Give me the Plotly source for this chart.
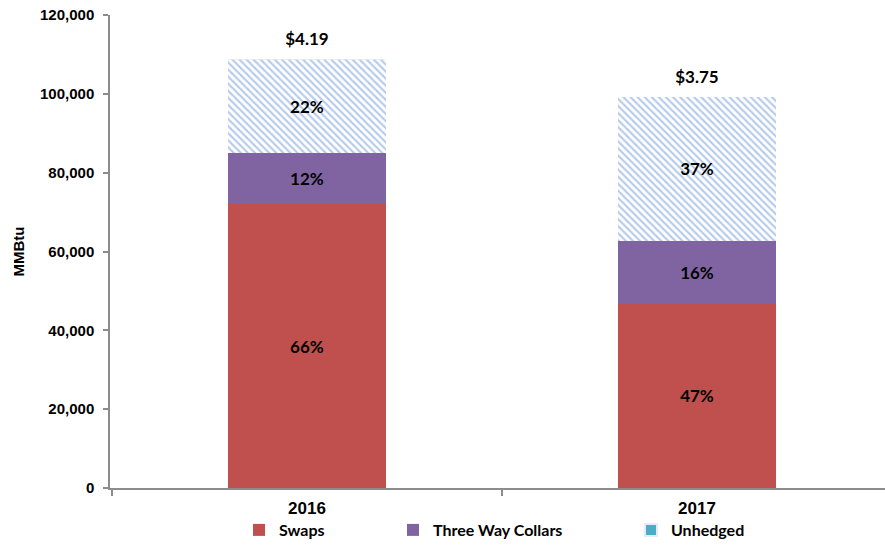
import plotly.graph_objects as go

years = ["2016", "2017"]
swaps = [72000, 46700]
collars = [13000, 16000]
unhedged = [23800, 36500]
swaps_pct = ["66%", "47%"]
collars_pct = ["12%", "16%"]
unhedged_pct = ["22%", "37%"]
prices = ["$4.19", "$3.75"]
y_ticks = [0, 20000, 40000, 60000, 80000, 100000, 120000]

totals = [s + c + u for s, c, u in zip(swaps, collars, unhedged)]

lab_font = dict(family="Lato", size=17, color="black", weight="bold")
leg_font = dict(family="Lato", size=16, color="black", weight="bold")
BW = 0.405

fig = go.Figure()
fig.add_bar(x=years, y=swaps, name="Swaps", legend="legend",
            marker=dict(color="#C0504D", line=dict(width=0)),
            text=swaps_pct, textposition="inside", insidetextanchor="middle",
            textfont=lab_font, width=BW)
fig.add_bar(x=years, y=collars, name="Three Way Collars", legend="legend2",
            marker=dict(color="#8064A2", line=dict(width=0)),
            text=collars_pct, textposition="inside", insidetextanchor="middle",
            textfont=lab_font, width=BW)
fig.add_bar(x=years, y=unhedged, name="Unhedged", showlegend=False,
            marker=dict(color="white", line=dict(width=0),
                        pattern=dict(shape="\\", fgcolor="#6d98d6", bgcolor="white",
                                     size=5, solidity=0.42)),
            text=unhedged_pct, textposition="inside", insidetextanchor="middle",
            textfont=lab_font, width=BW)
# legend-only entry with solid colour as in the reference legend
fig.add_bar(x=[years[0]], y=[0], name="Unhedged", legend="legend3",
            marker=dict(color="#4BACC6"),
            showlegend=True, hoverinfo="skip", width=BW)
# price labels above the stacks (invisible marker pushes the text up)
fig.add_scatter(x=years, y=totals, mode="markers+text", text=prices, textposition="top center",
                marker=dict(size=14, opacity=0),
                textfont=lab_font, showlegend=False, hoverinfo="skip", cliponaxis=False)

PLOT_L, PLOT_R, PLOT_T, PLOT_B = 110, 885, 15, 488
W, H = 885, 548

def lx(px):
    return (px - PLOT_L) / (PLOT_R - PLOT_L)

def ly(py):
    return (PLOT_B - py) / (PLOT_B - PLOT_T)

def leg(px):
    return dict(orientation="h", x=lx(px), xanchor="left", y=ly(547), yanchor="bottom",
                font=leg_font, bgcolor="rgba(0,0,0,0)", itemsizing="constant")

fig.update_layout(
    barmode="stack",
    width=W, height=H,
    margin=dict(l=PLOT_L, r=W - PLOT_R, t=PLOT_T, b=H - PLOT_B),
    plot_bgcolor="white", paper_bgcolor="white",
    showlegend=True,
    legend=leg(239),
    legend2=leg(393),
    legend3=leg(631),
)
fig.update_xaxes(type="category", range=[-0.505, 1.482], automargin=False,
                 showline=True, linecolor="#8c8c8c", linewidth=1.5,
                 ticks="outside", tickcolor="#8c8c8c", ticklen=6, tickwidth=1.5,
                 tickson="boundaries", tickangle=0, ticklabelstandoff=4,
                 tickfont=dict(family="Liberation Sans", size=17, color="black", weight="bold"),
                 showgrid=False)
fig.update_yaxes(range=[0, 120000], tickvals=y_ticks, tickformat=",", automargin=False,
                 showline=True, linecolor="#8c8c8c", linewidth=1.5,
                 ticks="outside", tickcolor="#8c8c8c", ticklen=5, tickwidth=1.5,
                 ticklabelstandoff=6,
                 tickfont=dict(family="Liberation Sans", size=15, color="black", weight="bold"),
                 title=dict(text="MMBtu", font=dict(family="Liberation Sans", size=15, color="black", weight="bold"), standoff=12),
                 showgrid=False, zeroline=False)

fig.write_html("out.html", post_script="document.body.style.margin='0';",
               config={"displayModeBar": False})
